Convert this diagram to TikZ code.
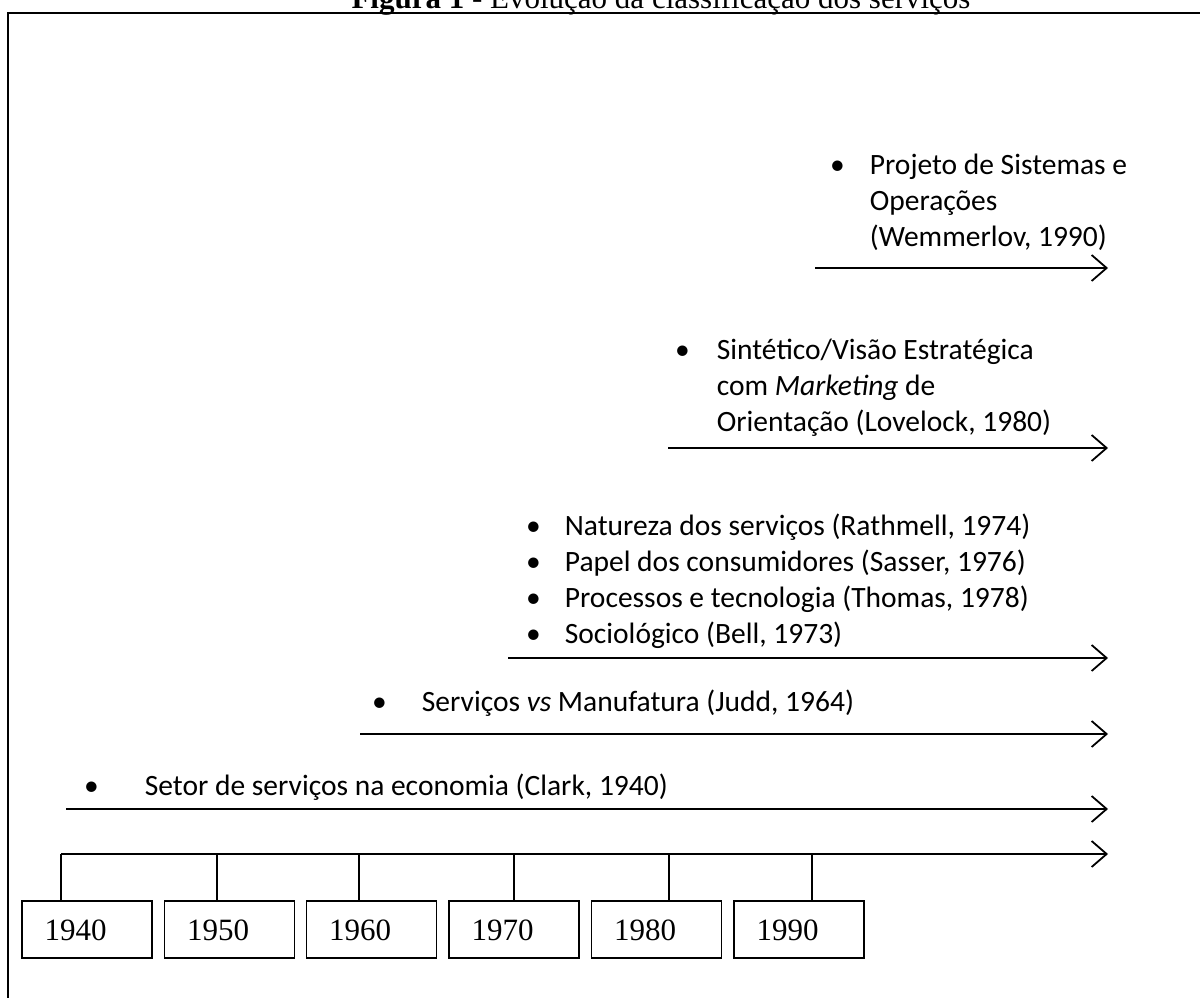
\documentclass[tikz,border=0pt]{standalone}
\usepackage{fontspec}
\setmainfont{Carlito}
\newfontfamily\timesfont{Liberation Serif}
\usetikzlibrary{arrows.meta}
\tikzstyle{yearbox}=[draw,line width=1.2pt,minimum height=57pt,minimum width=130pt,inner ysep=0pt]
\tikzstyle{yeartext}=[anchor=base west,inner sep=0pt,font=\timesfont\fontsize{31}{36}\selectfont]
\tikzstyle{timeline}=[line width=1.8pt,-{Straight Barb[length=15pt,width=26pt,line width=1.8pt]}]
\tikzstyle{tick}=[line width=1.2pt]
\tikzstyle{itemlist}=[anchor=north west,inner sep=0pt,font=\fontsize{29.5}{36}\selectfont]

\begin{document}
\begin{tikzpicture}[x=1pt,y=-1pt]
    \useasboundingbox (0,0) rectangle (1200,998);
    \clip (0,0) rectangle (1200,998);

    % frame and caption
    \draw[line width=2pt] (8,13) rectangle (1220,1020);
    \node[anchor=base,inner sep=0pt,font=\timesfont\fontsize{31}{36}\selectfont] (title) at (661,8.5) {\textbf{Figura 1} - Evolução da classificação dos serviços};

    % decades
    \foreach \x/\yr in {87/1940, 229.5/1950, 371.5/1960, 514/1970, 656.5/1980, 799/1990} {
        \node[yearbox] (b\yr) at (\x,929.5) {};
        \node[yeartext] (y\yr) at ([xshift=23pt,yshift=-10.5pt]b\yr.west) {\yr};
    }

    \coordinate (a0) at (61,854);
    \coordinate (a1) at (1108,854);
    \draw[timeline] (a0) -- (a1);

    \foreach \x/\yr in {61/1940, 217/1950, 359/1960, 514/1970, 669/1980, 812/1990} {
        \coordinate (t\yr) at (\x,854);
        \draw[tick] (t\yr) -- (t\yr |- b\yr.north);
    }

    % one arrow per period
    \foreach \name/\xa/\y in {wem/815/268, lov/668/448, rat/508/658, jud/360/734, cla/66/809} {
        \coordinate (\name0) at (\xa,\y);
        \coordinate (\name1) at (1108,\y);
        \draw[timeline] (\name0) -- (\name1);
    }

    \node[itemlist] (wem) at (830,149) {\begin{tabular}{@{}l@{\hspace{25pt}}l@{}}
        •&Projeto de Sistemas e\\
        &Operações\\
        &(Wemmerlov, 1990)\end{tabular}};
    \node[itemlist] (lov) at (675,334) {\begin{tabular}{@{}l@{\hspace{27pt}}l@{}}
        •&Sintético/Visão Estratégica\\
        &com \textit{Marketing} de\\
        &Orientação (Lovelock, 1980)\end{tabular}};
    \node[itemlist] (rat) at (526,510) {\begin{tabular}{@{}l@{\hspace{24pt}}l@{}}
        •&Natureza dos serviços (Rathmell, 1974)\\
        •&Papel dos consumidores (Sasser, 1976)\\
        •&Processos e tecnologia (Thomas, 1978)\\
        •&Sociológico (Bell, 1973)\end{tabular}};
    \node[itemlist] (jud) at (372,686) {\begin{tabular}{@{}l@{\hspace{35pt}}l@{}}
        •&Serviços \textit{vs} Manufatura (Judd, 1964)\end{tabular}};
    \node[itemlist] (cla) at (84,770) {\begin{tabular}{@{}l@{\hspace{46pt}}l@{}}
        •&Setor de serviços na economia (Clark, 1940)\end{tabular}};

\end{tikzpicture}
\end{document}
